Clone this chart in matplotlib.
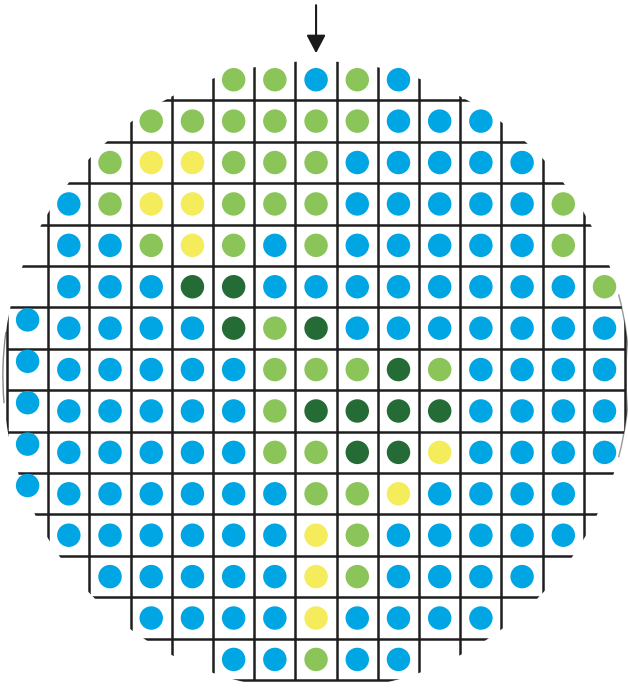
import numpy as np
import matplotlib
matplotlib.use("Agg")
import matplotlib.pyplot as plt
from matplotlib.patches import Ellipse, Arc

# wafer map, one string per row (top to bottom), '.' = no die
# B = blue, G = light green, Y = yellow, D = dark green
wafer_rows = [
    ".....GGBGB.....",
    "...GGGGGGBBB...",
    "..GYYGGGBBBBB..",
    ".BGYYGGGBBBBBG.",
    ".BBGYGBGBBBBBG.",
    ".BBBDDBBBBBBBBG",
    "BBBBBDGDBBBBBBB",
    "BBBBBBGGGDGBBBB",
    "BBBBBBGDDDDBBBB",
    "BBBBBBGGDDYBBBB",
    "BBBBBBBGGYBBBB.",
    ".BBBBBBYGBBBBB.",
    "..BBBBBYGBBBB..",
    "...BBBBYBBBB...",
    ".....BBGBB.....",
]
colors = {"B": "#00a5e3", "G": "#8bc559", "Y": "#f4ec5b", "D": "#256b35"}
n = len(wafer_rows)
arrow_col = 7

fig = plt.figure(figsize=(6.28, 6.88), dpi=100)
ax = fig.add_axes([0, 0, 1, 1])
ax.set_xlim(-0.67, 14.57)
ax.set_ylim(14.69, -1.925)
ax.axis("off")

# clipping shape of the wafer
cx, cy, r = 7.0, 7.15, 7.6
clip = Ellipse((cx, cy), 2 * r, 2 * r, transform=ax.transData,
               facecolor="none", edgecolor="none")
ax.add_patch(clip)

lines = np.arange(n + 1) - 0.5
hl = ax.hlines(lines, -0.5, n - 0.5, color="#1e1e1e", lw=1.8)
vl = ax.vlines(lines, -0.5, n - 0.5, color="#1e1e1e", lw=1.8)
hl.set_clip_path(clip)
vl.set_clip_path(clip)

# faint wafer edge on the sides
ax.add_patch(Arc((cx, cy), 2 * r, 2 * r, theta1=175, theta2=188,
                 color="#8a8a8a", lw=1.0))
ax.add_patch(Arc((cx, cy), 2 * r, 2 * r, theta1=-15, theta2=15,
                 color="#9a9a9a", lw=1.0))

xs, ys, cs = [], [], []
for j, row in enumerate(wafer_rows):
    for i, ch in enumerate(row):
        if ch == ".":
            continue
        xs.append(i)
        ys.append(j - 0.2 if i == 0 else j)
        cs.append(colors[ch])
ax.scatter(xs, ys, s=285, c=cs, edgecolors="none", zorder=3)

ax.annotate("", xy=(arrow_col, -0.64), xytext=(arrow_col, -1.8),
            arrowprops=dict(arrowstyle="-|>,head_width=0.29,head_length=0.55",
                            color="#1a1a1a", lw=1.5, mutation_scale=20,
                            shrinkA=0, shrinkB=0))

fig.savefig("out.png", dpi=100)
